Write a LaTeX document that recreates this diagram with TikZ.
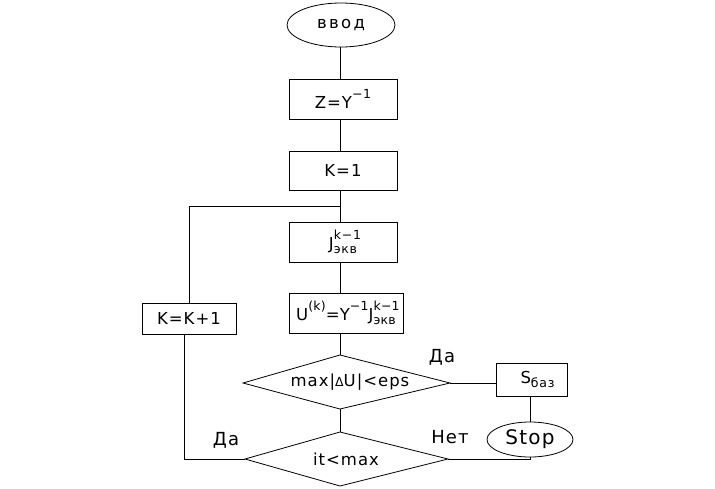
\documentclass[tikz,border=0pt]{standalone}
\usepackage{fontspec}
\setmainfont{DejaVu Sans}[LetterSpace=6]
\usetikzlibrary{shapes.geometric}
\newcommand\bigf{\fontsize{16.5}{19}\selectfont}
\newcommand\smf{\fontsize{12.5}{14}\selectfont}
\newcommand\supsubx[2]{\rlap{\raisebox{1.15ex}{\smf #1}}\raisebox{-0.45ex}{\smf #2}}
\newcommand\supx[1]{\raisebox{1.15ex}{\smf #1}}
\begin{document}
\begin{tikzpicture}[x=1pt,y=-1pt,line width=0.8pt,font=\bigf,
  box/.style={draw,rectangle,inner sep=1pt},
  term/.style={draw,ellipse,inner sep=0pt},
  lab/.style={inner sep=0pt,font=\fontsize{18}{20}\selectfont}]
\useasboundingbox (0,0) rectangle (715,488);
\coordinate (ax) at (340,0);
\node[term,minimum width=108,minimum height=44] (in) at (341,25) {\addfontfeature{LetterSpace=14}ввод};
\node[box,minimum width=108,minimum height=40] (z) at (343,99) {Z=Y\supx{−1}};
\node[box,minimum width=108,minimum height=39] (k1) at (343,170.5) {K=1\hspace{22pt}};
\coordinate (jn) at (340,206);
\node[box,minimum width=108,minimum height=40] (j) at (343,242) {J\supsubx{k−1}{экв}};
\node[box,minimum width=114,minimum height=40,inner sep=0pt] (u) at (346,313) {\addfontfeature{LetterSpace=2}U\supx{(k)}=Y\supx{−1}J\supsubx{k−1}{экв}};
\node[box,minimum width=94,minimum height=31] (kk) at (189,318.5) {K=K+1};
% decision 1
\node[inner sep=0pt] (d1) at (350,382) {max|{\smf Δ}U|<eps};
\coordinate (d1w) at (243,383);
\coordinate (d1n) at (340,355);
\coordinate (d1e) at (450,383);
\coordinate (d1s) at (340,409);
\draw (d1w) -- (d1n) -- (d1e) -- (d1s) -- cycle;
\node[box,minimum width=71,minimum height=33] (s) at (531.5,379.5) {\hspace{12pt}S\raisebox{-0.45ex}{\smf баз}};
\node[term,minimum width=86,minimum height=35] (stop) at (530,439.5) {\fontsize{20}{22}\selectfont Stop};
% decision 2
\node[inner sep=0pt] (d2) at (346,459) {it<max};
\coordinate (d2w) at (245,459);
\coordinate (d2n) at (340,432);
\coordinate (d2e) at (448,459);
\coordinate (d2s) at (340,486);
\draw (d2w) -- (d2n) -- (d2e) -- (d2s) -- cycle;
\node[lab] (da1) at (442,357) {Да};
\node[lab] (net) at (450,437) {Нет};
\node[lab] (da2) at (226,440) {Да};
\draw (in.south -| ax) -- (z.north -| ax);
\draw (z.south -| ax) -- (k1.north -| ax);
\draw (k1.south -| ax) -- (j.north -| ax);
\draw (j.south -| ax) -- (u.north -| ax);
\draw (u.south -| ax) -- (d1n);
\draw (d1e) -- (d1e -| s.west);
\draw (s.south -| stop.north) -- (stop.north);
\draw (d1s) -- (d2n);
\draw (d2e) -| (stop.south);
\draw (d2w) -| ([xshift=-5pt]kk.south);
\draw (kk.north) |- (jn);
\end{tikzpicture}
\end{document}
